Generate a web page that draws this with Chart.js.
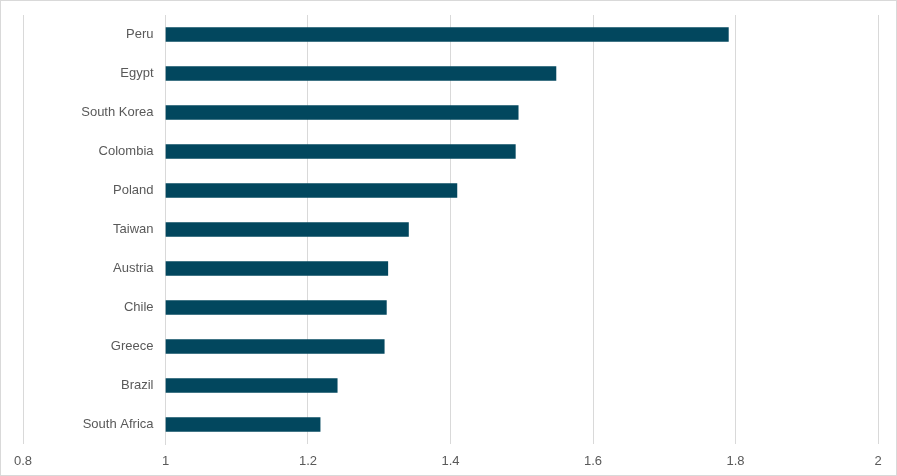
<!DOCTYPE html>
<html>
<head>
<meta charset="utf-8">
<script src="https://cdn.jsdelivr.net/npm/chart.js@4.4.1/dist/chart.umd.min.js"></script>
<style>
    html, body { margin: 0; padding: 0; background: #fff; }
    #wrap {
        width: 897px; height: 476px;
        box-sizing: border-box;
        border: 1px solid #d9d9d9;
        position: relative;
    }
</style>
</head>
<body>
<div id="wrap"><canvas id="barChart"></canvas></div>
<script>
// datos
const countries = ['Peru', 'Egypt', 'South Korea', 'Colombia', 'Poland', 'Taiwan',
    'Austria', 'Chile', 'Greece', 'Brazil', 'South Africa'];
const values = [1.790, 1.548, 1.495, 1.491, 1.409, 1.341, 1.312, 1.310, 1.307, 1.241, 1.217];
const xTicks = [0.8, 1, 1.2, 1.4, 1.6, 1.8, 2];
const crossAt = 1;

window.addEventListener('load', function() {
    if (typeof Chart === 'undefined') {
        console.error('Chart.js no está cargado');
        return;
    }

    // etiquetas de categoria junto al eje que cruza en 1
    const categoryLabels = {
        id: 'categoryLabels',
        afterDatasetsDraw: function(chart) {
            const c = chart.ctx;
            const xs = chart.scales.x;
            const ys = chart.scales.y;
            const x = xs.getPixelForValue(crossAt) - 12;
            c.save();
            c.font = '13px "Liberation Sans", Arial';
            c.fillStyle = '#595959';
            c.textAlign = 'right';
            c.textBaseline = 'middle';
            countries.forEach(function(name, i) {
                c.fillText(name, x, ys.getPixelForValue(i));
            });
            c.restore();
        }
    };

    const ctx = document.getElementById('barChart').getContext('2d');
    const barChart = new Chart(ctx, {
        type: 'bar',
        data: {
            labels: countries,
            datasets: [{
                data: values,
                base: crossAt,
                backgroundColor: '#02475e',
                borderWidth: 0,
                barThickness: 14
            }]
        },
        options: {
            indexAxis: 'y',
            responsive: true,
            maintainAspectRatio: false,
            animation: false,
            layout: {
                padding: { left: 22, right: 18, top: 14, bottom: 0 }
            },
            plugins: {
                legend: { display: false },
                tooltip: { enabled: false }
            },
            scales: {
                x: {
                    min: 0.8,
                    max: 2,
                    afterBuildTicks: function(axis) {
                        axis.ticks = xTicks.map(v => ({ value: v }));
                    },
                    afterFit: function(axis) {
                        axis.height = 31;
                    },
                    ticks: {
                        color: '#595959',
                        font: { family: 'Liberation Sans, Arial', size: 13 },
                        padding: 10,
                        callback: function(v) { return String(v); }
                    },
                    grid: {
                        color: '#d9d9d9',
                        drawTicks: false
                    },
                    border: { display: false }
                },
                y: {
                    position: { x: crossAt },
                    ticks: { display: false },
                    grid: { display: false, drawTicks: false },
                    border: { display: true, color: '#d9d9d9' }
                }
            }
        },
        plugins: [categoryLabels]
    });
});
</script>
</body>
</html>
